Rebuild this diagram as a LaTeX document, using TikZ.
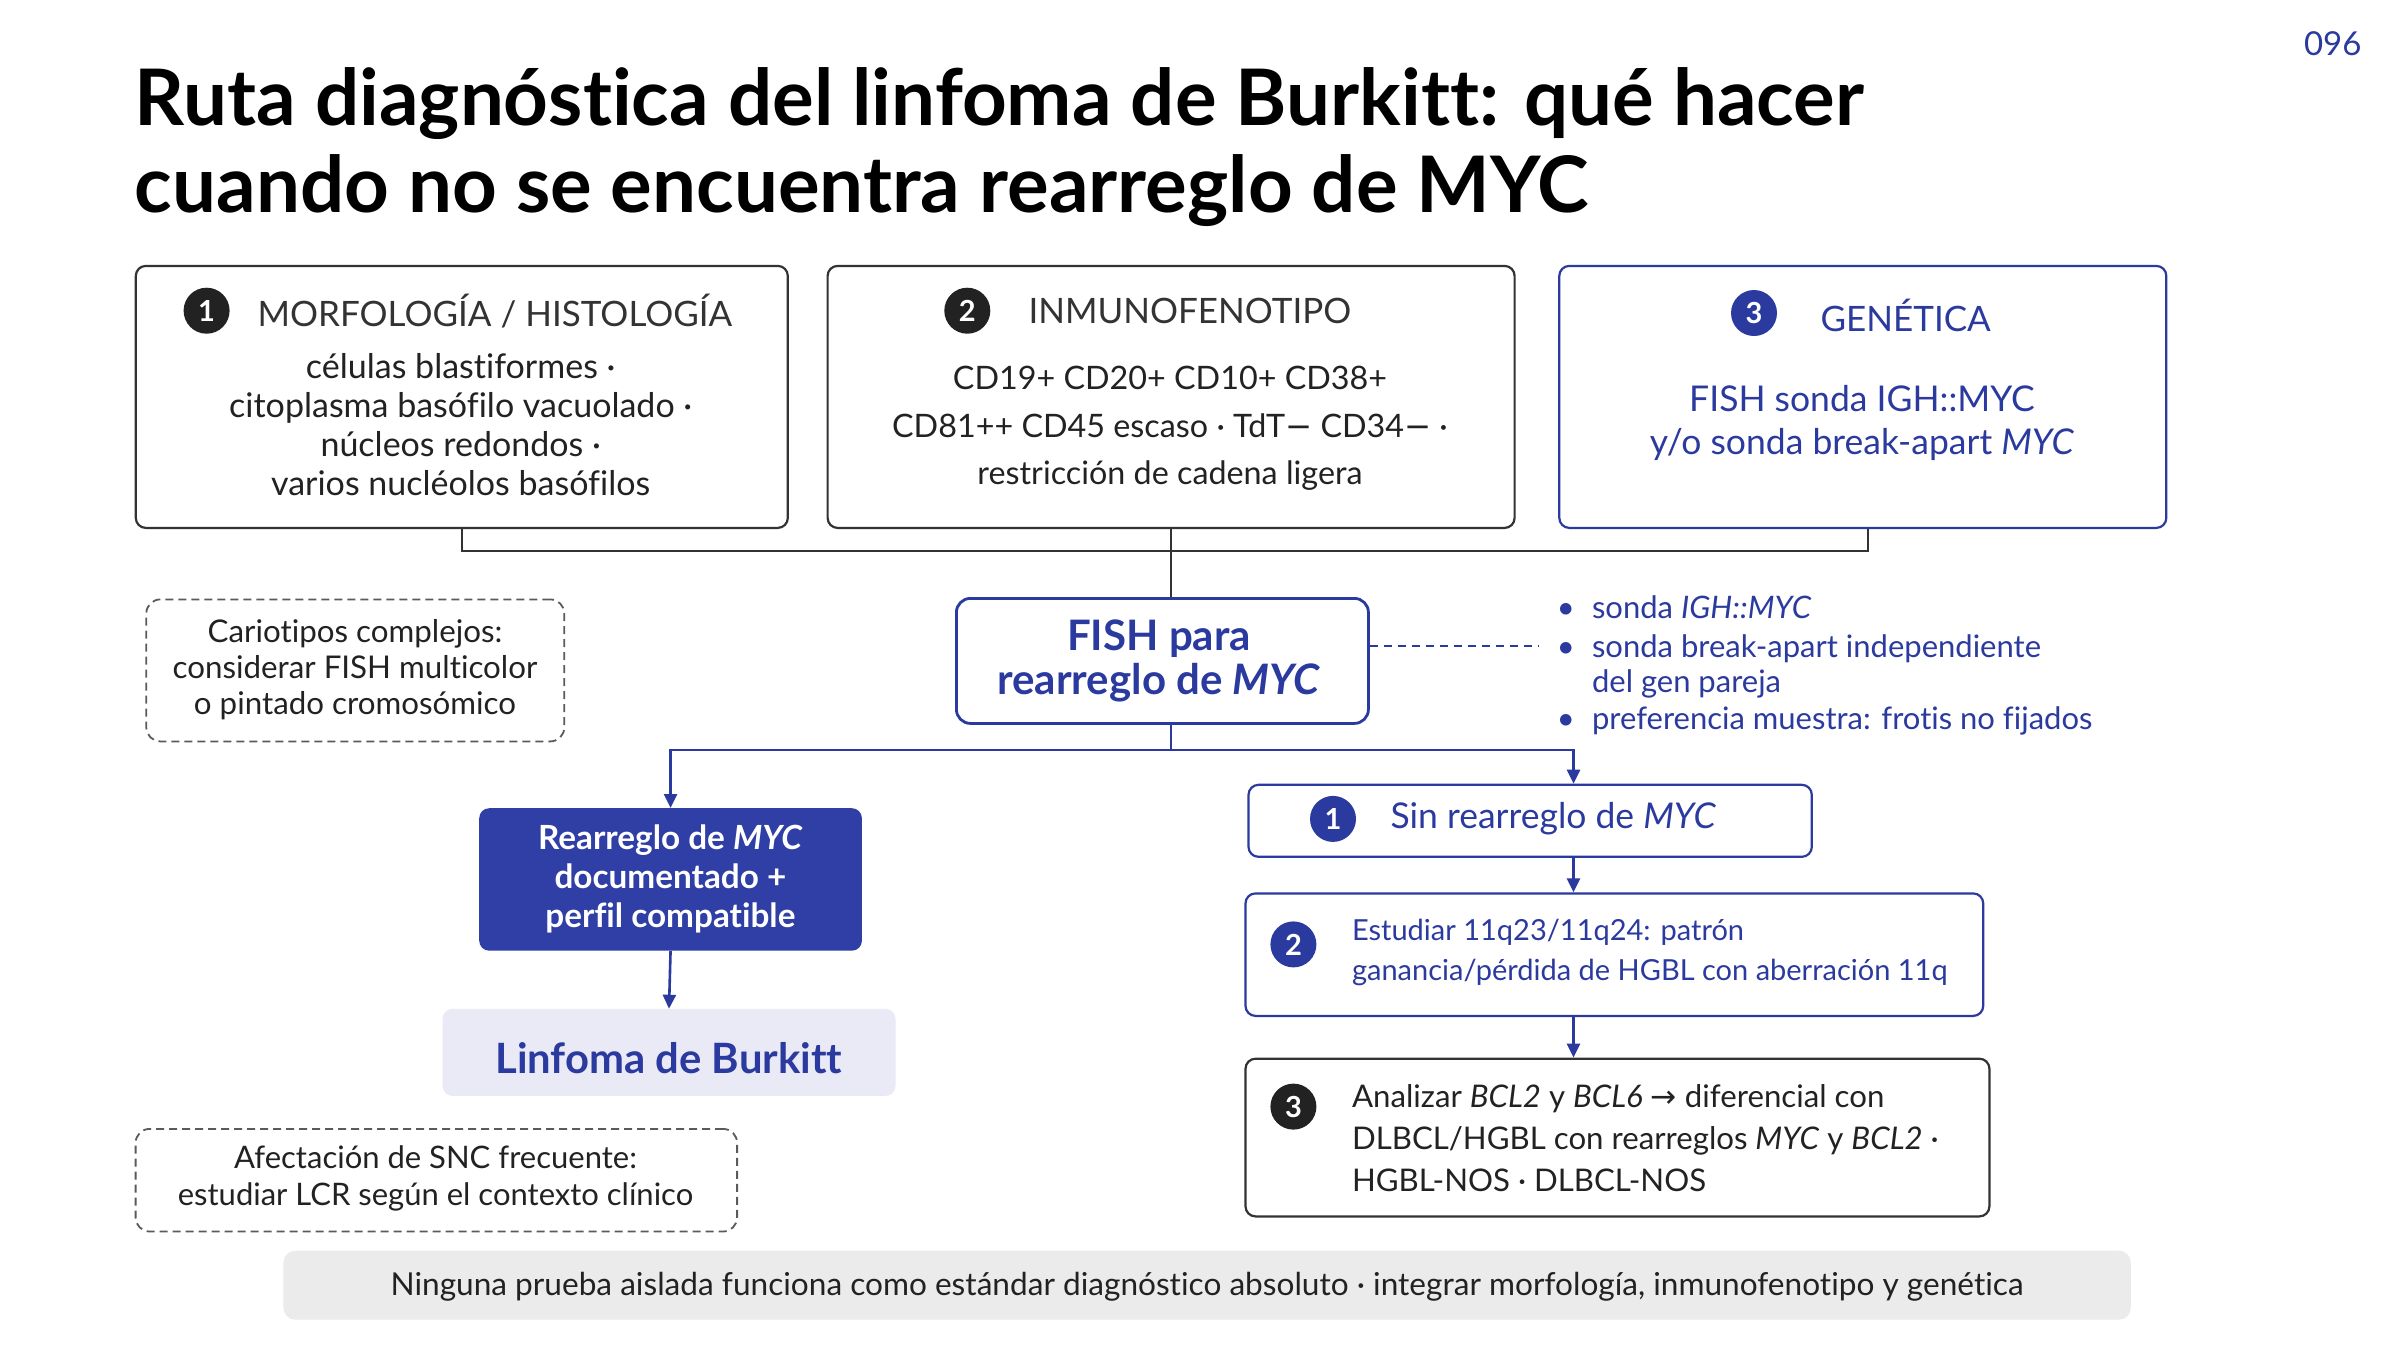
\documentclass[tikz,border=0pt]{standalone}
\usepackage{fontspec}
\setmainfont{Lato}[Ligatures=NoCommon]
\newfontfamily\sym{DejaVu Sans}
\usetikzlibrary{arrows.meta}
\definecolor{navy}{HTML}{2B3A9E}
\definecolor{boxblue}{HTML}{2F3FA6}
\definecolor{dark}{HTML}{222222}
\definecolor{edge}{HTML}{333333}
\definecolor{lav}{HTML}{EAEAF6}
\definecolor{barg}{HTML}{EBEBEB}
\definecolor{dgrey}{HTML}{5A5A5A}
\newcommand{\fs}[2]{\fontsize{#1}{#2}\selectfont}
\begin{document}
\begin{tikzpicture}[x=1pt,y=-1pt,
  card/.style={draw=edge, line width=2.2pt, rounded corners=10pt, anchor=north west, inner sep=0},
  bluecard/.style={card, draw=navy},
  badge/.style={circle, fill=dark, text=white, font=\fs{29}{29}\bfseries, minimum size=46pt, inner sep=0},
  bluebadge/.style={badge, fill=navy},
  note/.style={draw=dgrey, dash pattern=on 8pt off 5pt, line width=1.8pt, rounded corners=14pt, anchor=north west, inner sep=0},
  tree/.style={draw=edge, line width=2.2pt},
  btree/.style={draw=navy, line width=2.6pt},
  arr/.style={btree, -{Triangle[length=14pt,width=13pt]}},
  hdr/.style={anchor=west, text=edge, font=\fs{35}{40}},
  body/.style={align=center, text=dark},
  btext/.style={align=center, text=navy},
]
\useasboundingbox[fill=white] (0,0) rectangle (2400,1350);

% page number and title
\node[anchor=east, text=navy, font=\fs{33}{33}] (pg) at (2365,44) {096};
\node[anchor=base west, inner sep=0, text=black, font=\fs{78}{86}\bfseries] (t1) at (134.7,125) {Ruta diagnóstica del linfoma de Burkitt: qué hacer};
\node[anchor=base west, inner sep=0, text=black, font=\fs{78}{86}\bfseries] (t2) at (134.7,212) {cuando no se encuentra rearreglo de MYC};

% top cards
\node[card, minimum width=652pt, minimum height=262pt] (b1) at (134.7,264.8) {};
\node[card, minimum width=687pt, minimum height=262pt] (b2) at (826.5,264.8) {};
\node[bluecard, minimum width=607pt, minimum height=262pt] (b3) at (1558.2,264.8) {};

\node[badge] (n1) at (206.6,310.7) {1};
\node[hdr] (h1) at (254,311) {MORFOLOGÍA / HISTOLOGÍA};
\node[body, font=\fs{34}{39}] (x1) at (460.7,424.7) {células blastiformes ·\\ citoplasma basófilo vacuolado ·\\ núcleos redondos ·\\ varios nucléolos basófilos};

\node[badge] (n2) at (967.3,310.7) {2};
\node[hdr] (h2) at (1025,311) {INMUNOFENOTIPO};
\node[body, font=\fs{32.3}{47.5}] (x2) at (1170,428.6) {CD19+ CD20+ CD10+ CD38+\\ CD81++ CD45 escaso · TdT{\sym −} CD34{\sym −} ·\\ restricción de cadena ligera};

\node[bluebadge] (n3) at (1754,313) {3};
\node[hdr, text=navy] (h3) at (1817,315) {GENÉTICA};
\node[btext, font=\fs{35.5}{43}] (x3) at (1862,422.5) {FISH sonda IGH::MYC\\ y/o sonda break-apart \textit{MYC}};

% FISH node
\node[bluecard, line width=2.8pt, minimum width=412pt, minimum height=125pt, rounded corners=14pt] (fish) at (955,597) {};
\node[btext, font=\fs{42}{44}\bfseries] (fisht) at (1159,661) {FISH para\\ rearreglo de \textit{MYC}};

% top tree
\coordinate (jy) at (0,551);
\draw[tree] (b1.south) |- (b2.south |- jy) -| ([xshift=5pt]b3.south);
\draw[tree] (b2.south) -- (fish.north -| b2.south);

% dashed link and bullets
\coordinate (dl) at (0,646);
\coordinate (de) at (1538,646);
\draw[navy, line width=2.4pt, dash pattern=on 8pt off 6pt] (fish.east |- dl) -- (de);
\begin{scope}[every node/.style={anchor=base west, inner sep=0, text=navy, font=\fs{31}{31}}]
\node (u1) at (1591.8,618) {sonda \textit{IGH::MYC}};
\node (u2) at (1591.8,657) {sonda break-apart independiente};
\node (u3) at (1591.8,692) {del gen pareja};
\node (u4) at (1591.8,729) {preferencia muestra: frotis no fijados};
\node[anchor=base] (d1) at (1565.8,618) {•};
\node[anchor=base] (d2) at (1565.8,657) {•};
\node[anchor=base] (d4) at (1565.8,729) {•};
\end{scope}

% left note
\node[note, minimum width=418pt, minimum height=142pt] (nt1) at (145.4,598.5) {};
\node[body, font=\fs{31.3}{36}] (nt1t) at (355,669.7) {Cariotipos complejos:\\ considerar FISH multicolor\\ o pintado cromosómico};

% left branch
\node[anchor=north west, fill=boxblue, rounded corners=10pt, minimum width=382.7pt, minimum height=142.5pt, inner sep=0] (pos) at (479,808) {};
\node[align=center, text=white, font=\fs{33.3}{39}\bfseries] (post) at (670.4,879) {Rearreglo de \textit{MYC}\\ documentado +\\ perfil compatible};
\node[anchor=north west, fill=lav, rounded corners=10pt, minimum width=453pt, minimum height=87pt, inner sep=0] (bl) at (442.3,1008.7) {};
\node[text=navy, font=\fs{41.8}{42}\bfseries] (blt) at (668.8,1058) {Linfoma de Burkitt};

\node[note, minimum width=601.5pt, minimum height=102.6pt] (nt2) at (134.7,1128) {};
\node[body, font=\fs{31}{37}] (nt2t) at (435.5,1178.5) {Afectación de SNC frecuente:\\ estudiar LCR según el contexto clínico};

% right branch
\node[bluecard, minimum width=563.3pt, minimum height=72pt] (r1) at (1247.4,783.7) {};
\node[bluebadge] (m1) at (1333,818.9) {1};
\node[anchor=west, text=navy, font=\fs{35.5}{36}] (r1t) at (1387,818.9) {Sin rearreglo de \textit{MYC}};

\node[bluecard, minimum width=737.7pt, minimum height=122.5pt] (r2) at (1244.4,892.3) {};
\node[bluebadge] (m2) at (1293.4,944.4) {2};
\node[anchor=west, align=left, text=navy, font=\fs{29}{40}] (r2t) at (1348.5,952) {Estudiar 11q23/11q24: patrón\\ ganancia/pérdida de HGBL con aberración 11q};

\node[card, minimum width=743.9pt, minimum height=157.7pt] (r3) at (1244.4,1057.6) {};
\node[badge] (m3) at (1293.4,1106.6) {3};
\node[anchor=west, align=left, text=dark, font=\fs{31.2}{42}] (r3t) at (1348.5,1138) {Analizar \textit{BCL2} y \textit{BCL6} {\sym →} diferencial con\\ DLBCL/HGBL con rearreglos \textit{MYC} y \textit{BCL2} ·\\ HGBL-NOS · DLBCL-NOS};

% branch arrows
\coordinate (sy) at (0,750);
\coordinate (rx) at (1573.5,0);
\draw[btree] (fish.south -| b2.south) -- (b2.south |- sy);
\draw[arr] (b2.south |- sy) -| (pos.north);
\draw[arr] (b2.south |- sy) -| (r1.north -| rx);
\draw[arr] (pos.south) -- (bl.north);
\draw[arr] (r1.south -| rx) -- (r2.north -| rx);
\draw[arr] (r2.south -| rx) -- (r3.north -| rx);

% bottom bar
\node[anchor=north west, fill=barg, rounded corners=12pt, minimum width=1847.4pt, minimum height=69pt, inner sep=0] (bar) at (283.2,1250.5) {};
\node[text=dark, font=\fs{31.6}{32}] (bart) at (1207,1287) {Ninguna prueba aislada funciona como estándar diagnóstico absoluto · integrar morfología, inmunofenotipo y genética};
\end{tikzpicture}
\end{document}
